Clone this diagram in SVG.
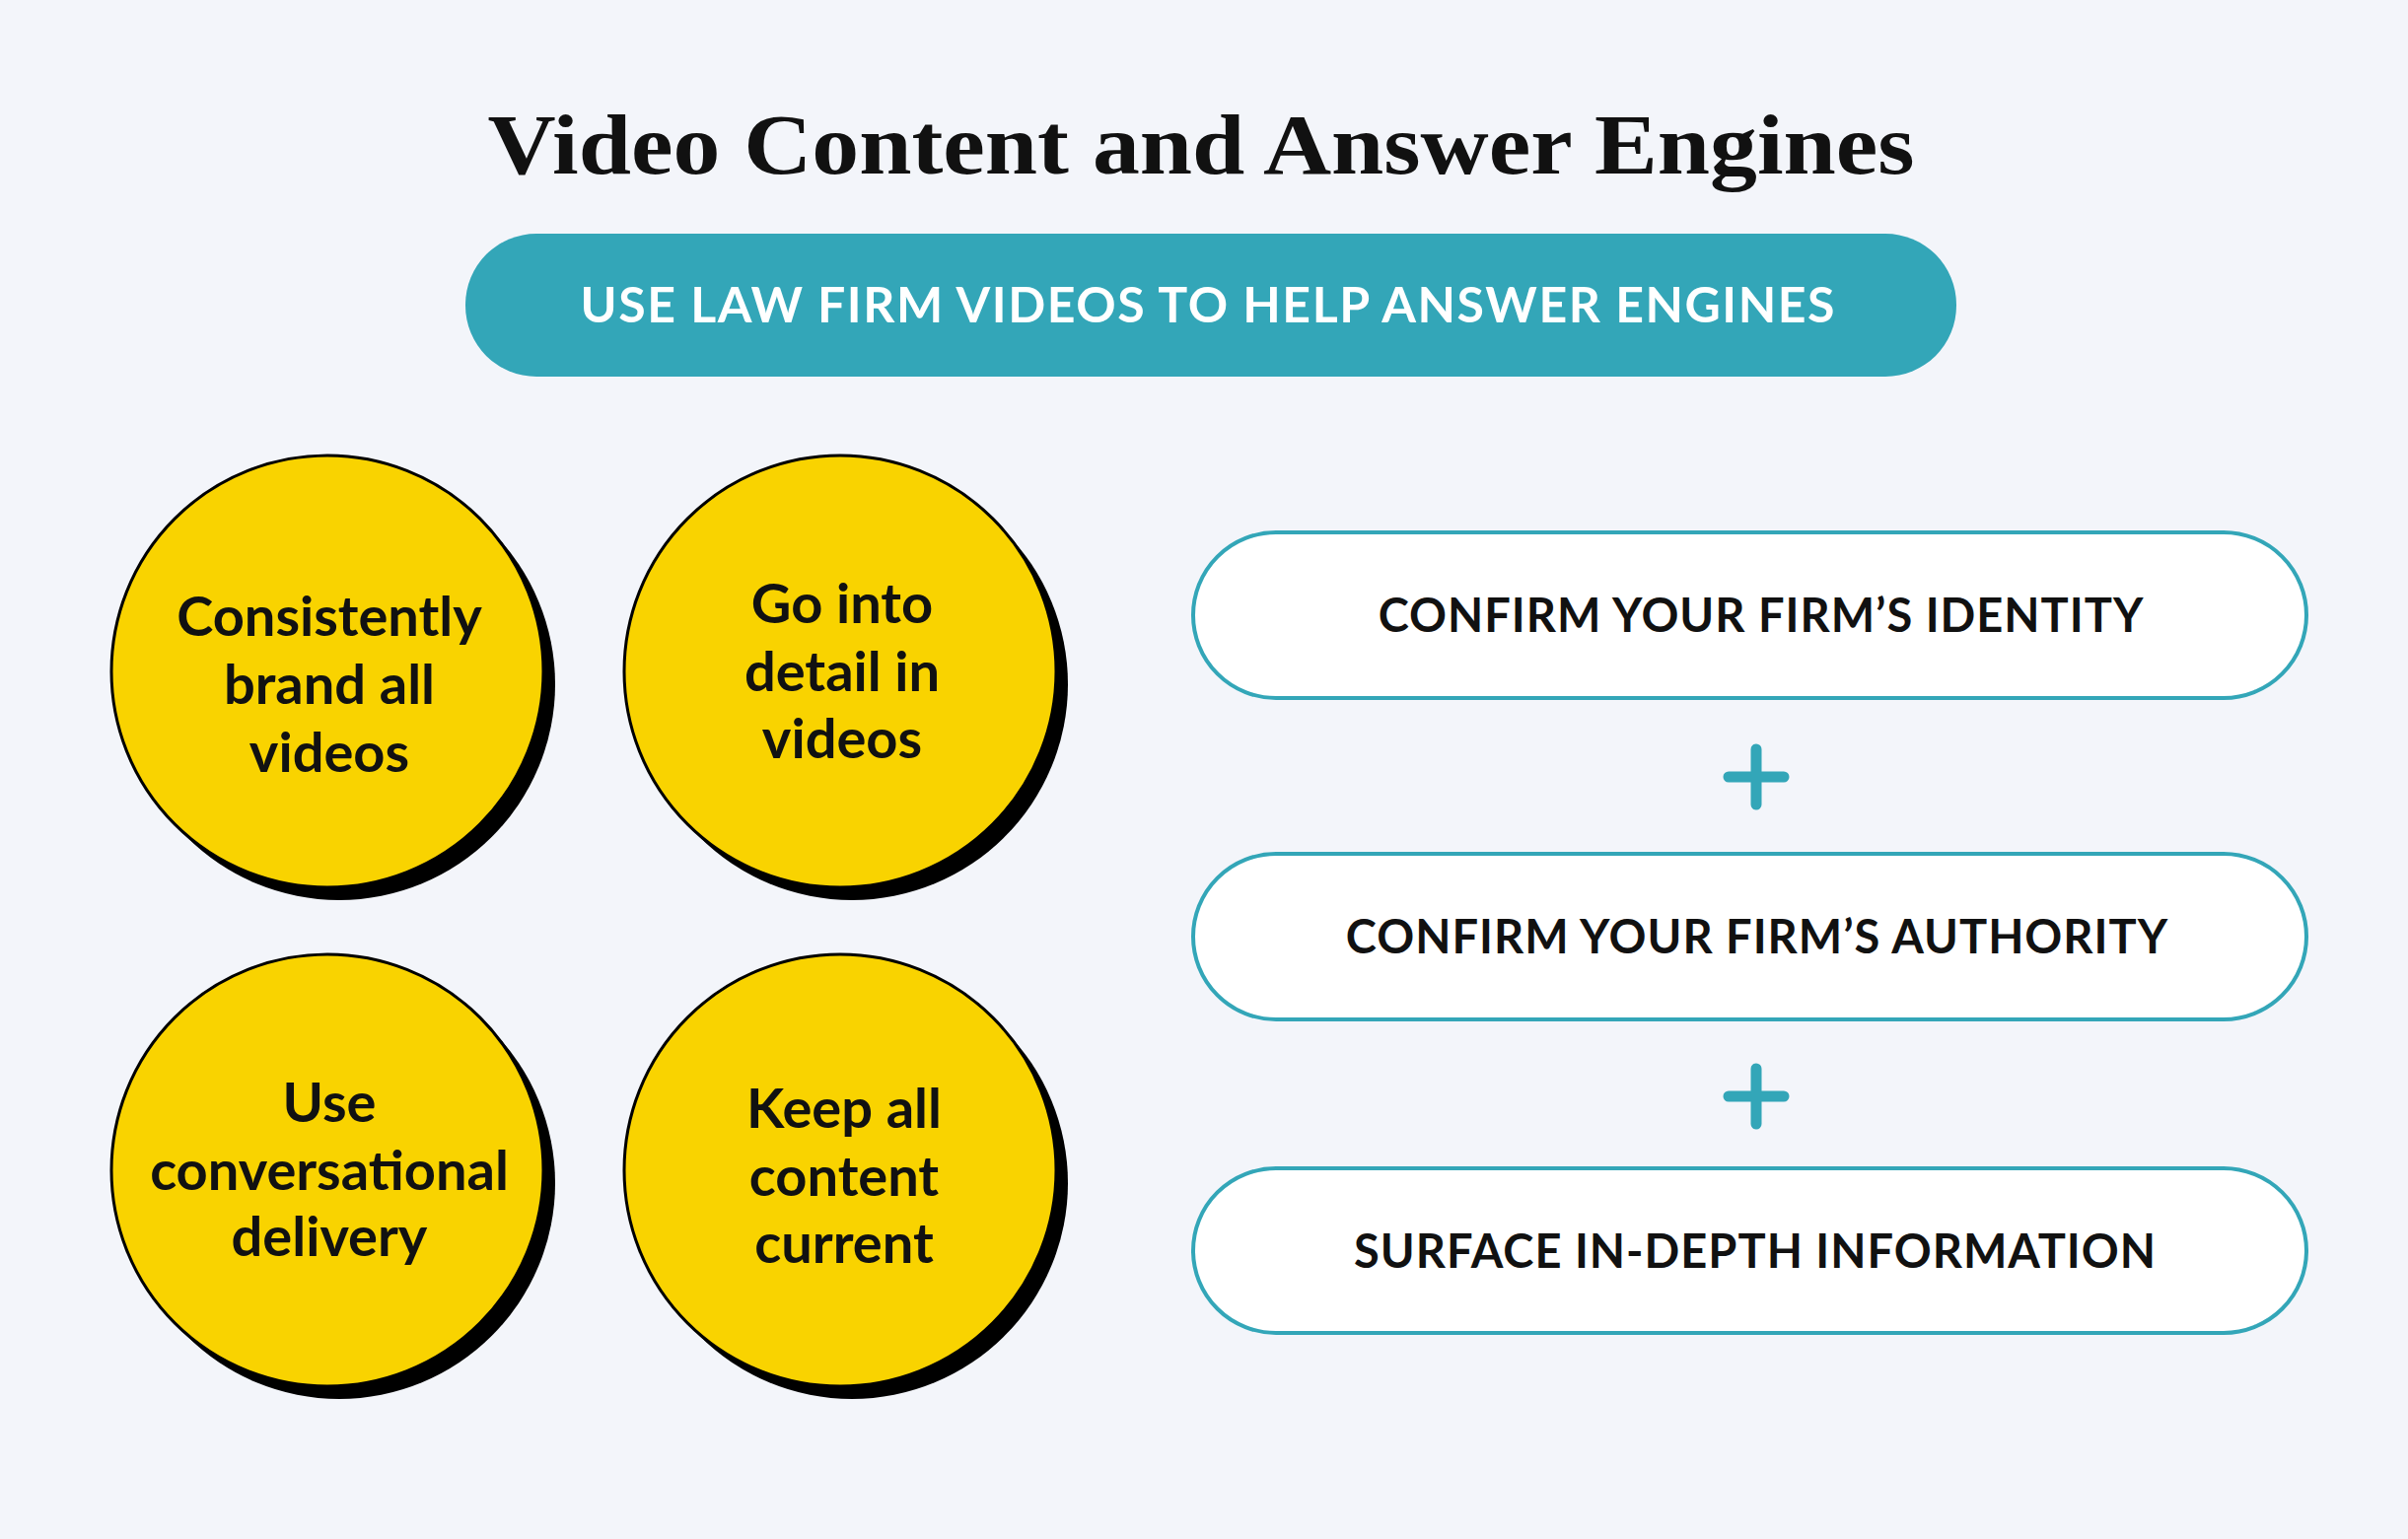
<svg xmlns="http://www.w3.org/2000/svg" width="2442" height="1561" viewBox="0 0 2442 1561">
<style>
.c{fill:#f9d300;stroke:#000;stroke-width:3}
.s{fill:#000}
.ct{font-family:Lato,"Liberation Sans",sans-serif;font-weight:700;font-size:56px;fill:#111;text-anchor:middle}
.p{fill:#fff;stroke:#33a6b8;stroke-width:4}
.pt{font-family:Lato,"Liberation Sans",sans-serif;font-weight:700;font-size:47px;fill:#111;text-anchor:middle;letter-spacing:1px}
.plus{stroke:#33a6b8;stroke-width:11;stroke-linecap:round}
</style>
<rect width="2442" height="1561" fill="#f3f5fa"/>
<text x="1218" y="176" font-family="Liberation Serif,serif" font-weight="700" font-size="86" text-anchor="middle" fill="#111" textLength="1447" lengthAdjust="spacingAndGlyphs">Video Content and Answer Engines</text>
<g id="banner">
<rect x="472" y="237" width="1512" height="145" rx="72" fill="#33a6b8"/>
<text x="1225" y="327" font-family="Lato,'Liberation Sans',sans-serif" font-weight="700" font-size="50" fill="#fff" text-anchor="middle" textLength="1273" letter-spacing="1">USE LAW FIRM VIDEOS TO HELP ANSWER ENGINES</text>
</g>
<g id="c1"><circle class="s" cx="344" cy="694" r="219"/><circle class="c" cx="332" cy="681" r="219"/>
<text class="ct"><tspan x="334" y="645">Consistently</tspan><tspan x="334" y="714">brand all</tspan><tspan x="334" y="783">videos</tspan></text></g>
<g id="c2"><circle class="s" cx="864" cy="694" r="219"/><circle class="c" cx="852" cy="681" r="219"/>
<text class="ct"><tspan x="854" y="632">Go into</tspan><tspan x="854" y="701">detail in</tspan><tspan x="854" y="769">videos</tspan></text></g>
<g id="c3"><circle class="s" cx="344" cy="1200" r="219"/><circle class="c" cx="332" cy="1187" r="219"/>
<text class="ct"><tspan x="334" y="1138">Use</tspan><tspan x="334" y="1207">conversational</tspan><tspan x="334" y="1274">delivery</tspan></text></g>
<g id="c4"><circle class="s" cx="864" cy="1200" r="219"/><circle class="c" cx="852" cy="1187" r="219"/>
<text class="ct"><tspan x="856" y="1144">Keep all</tspan><tspan x="856" y="1213">content</tspan><tspan x="856" y="1281">current</tspan></text></g>
<g id="p1"><rect class="p" x="1210" y="540" width="1129" height="168" rx="84"/><text class="pt" x="1786" y="641">CONFIRM YOUR FIRM’S IDENTITY</text></g>
<g id="p2"><rect class="p" x="1210" y="866" width="1129" height="168" rx="84"/><text class="pt" x="1782" y="967">CONFIRM YOUR FIRM’S AUTHORITY</text></g>
<g id="p3"><rect class="p" x="1210" y="1185" width="1129" height="167" rx="84"/><text class="pt" x="1780" y="1286">SURFACE IN-DEPTH INFORMATION</text></g>
<g id="connectors">
<path class="plus" d="M1753 788H1809M1781 760V816"/>
<path class="plus" d="M1753 1112H1809M1781 1084V1140"/>
</g>
</svg>
